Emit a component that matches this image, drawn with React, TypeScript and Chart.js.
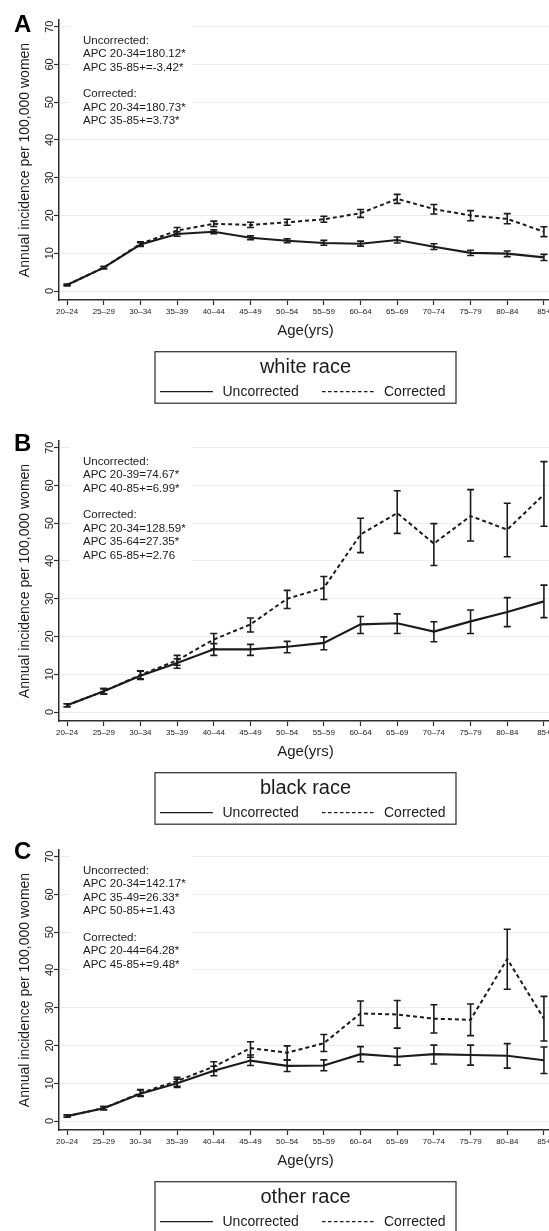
import React, { useEffect, useRef } from "react";
import { Chart, registerables } from "chart.js";

Chart.register(...registerables);

// ---------- data ----------
const ageGroups = ["20–24", "25–29", "30–34", "35–39", "40–44", "45–49", "50–54", "55–59", "60–64", "65–69", "70–74", "75–79", "80–84", "85+"];
const yTicks = [0, 10, 20, 30, 40, 50, 60, 70];
const seriesNames = ["Uncorrected", "Corrected"];

// Panel A: white race
const whiteUncorrected = [1.6, 6.2, 12.3, 15.1, 15.7, 14.1, 13.3, 12.7, 12.5, 13.5, 11.7, 10.1, 9.9, 8.9];
const whiteUncorrectedLow = [1.4, 5.9, 11.8, 14.5, 15.2, 13.6, 12.8, 12.1, 11.9, 12.7, 11.0, 9.4, 9.1, 8.1];
const whiteUncorrectedHigh = [1.8, 6.5, 12.8, 15.7, 16.2, 14.6, 13.8, 13.4, 13.2, 14.3, 12.5, 10.8, 10.6, 9.7];
const whiteCorrected = [1.6, 6.2, 12.5, 16.0, 17.8, 17.5, 18.2, 19.0, 20.6, 24.4, 21.7, 20.0, 19.1, 15.7];
const whiteCorrectedLow = [1.4, 5.9, 12.0, 15.2, 17.1, 16.8, 17.4, 18.2, 19.5, 23.2, 20.4, 18.6, 17.8, 14.4];
const whiteCorrectedHigh = [1.8, 6.5, 13.0, 16.8, 18.5, 18.2, 19.0, 19.8, 21.6, 25.6, 22.9, 21.3, 20.5, 17.0];
const whiteNotes = ["Uncorrected:", "APC 20-34=180.12*", "APC 35-85+=-3.42*", "", "Corrected:", "APC 20-34=180.73*", "APC 35-85+=3.73*"];

// Panel B: black race
const blackUncorrected = [1.8, 5.5, 9.6, 13.0, 16.6, 16.6, 17.3, 18.3, 23.2, 23.5, 21.3, 24.0, 26.5, 29.3];
const blackUncorrectedLow = [1.4, 4.8, 8.6, 11.6, 15.0, 15.0, 15.7, 16.5, 20.8, 20.8, 18.6, 20.8, 22.6, 25.0];
const blackUncorrectedHigh = [2.2, 6.2, 10.8, 14.1, 18.1, 17.9, 18.7, 19.9, 25.3, 26.0, 23.9, 27.0, 30.3, 33.6];
const blackCorrected = [1.8, 5.5, 9.8, 13.7, 19.2, 23.2, 30.0, 32.9, 47.0, 52.7, 44.6, 51.9, 48.3, 57.6];
const blackCorrectedLow = [1.4, 4.8, 8.8, 12.4, 16.7, 21.2, 27.4, 29.8, 42.2, 47.3, 38.8, 45.3, 41.1, 49.2];
const blackCorrectedHigh = [2.2, 6.2, 10.9, 15.0, 20.8, 24.9, 32.2, 35.9, 51.3, 58.6, 49.9, 58.9, 55.3, 66.3];
const blackNotes = ["Uncorrected:", "APC 20-39=74.67*", "APC 40-85+=6.99*", "", "Corrected:", "APC 20-34=128.59*", "APC 35-64=27.35*", "APC 65-85+=2.76"];

// Panel C: other race
const otherUncorrected = [1.3, 3.4, 7.2, 10.0, 13.3, 16.0, 14.6, 14.7, 17.7, 17.0, 17.7, 17.5, 17.3, 16.1];
const otherUncorrectedLow = [1.0, 3.0, 6.5, 8.9, 12.0, 14.7, 13.1, 13.3, 15.7, 14.8, 15.1, 14.8, 14.0, 12.6];
const otherUncorrectedHigh = [1.6, 3.8, 8.2, 11.1, 14.5, 17.5, 16.2, 16.2, 19.7, 19.3, 20.1, 20.1, 20.5, 19.6];
const otherCorrected = [1.3, 3.4, 7.4, 10.6, 14.4, 19.3, 18.1, 20.6, 28.5, 28.2, 27.1, 26.8, 42.9, 27.1];
const otherCorrectedLow = [1.0, 3.0, 6.7, 9.2, 13.1, 16.9, 16.2, 18.4, 25.3, 24.6, 23.3, 22.6, 34.9, 21.2];
const otherCorrectedHigh = [1.6, 3.8, 8.3, 11.6, 15.7, 21.0, 19.9, 22.9, 31.8, 31.9, 30.8, 31.0, 50.8, 33.0];
const otherNotes = ["Uncorrected:", "APC 20-34=142.17*", "APC 35-49=26.33*", "APC 50-85+=1.43", "", "Corrected:", "APC 20-44=64.28*", "APC 45-85+=9.48*"];

// ---------- styling ----------
const FONT = "'Liberation Sans', Arial, Helvetica, sans-serif";
const INK = "#1b1b1b";
const AXIS = "#2e2e2e";
const GRID = "#ececec";

type PanelSpec = {
  letter: string;
  race: string;
  notes: string[];
  uncorr: number[];
  uncorrLow: number[];
  uncorrHigh: number[];
  corr: number[];
  corrLow: number[];
  corrHigh: number[];
  top: number;
  letterBaseline: number;
};

const panels: PanelSpec[] = [
  { letter: "A", race: "white race", notes: whiteNotes, uncorr: whiteUncorrected, uncorrLow: whiteUncorrectedLow, uncorrHigh: whiteUncorrectedHigh, corr: whiteCorrected, corrLow: whiteCorrectedLow, corrHigh: whiteCorrectedHigh, top: 0, letterBaseline: 32 },
  { letter: "B", race: "black race", notes: blackNotes, uncorr: blackUncorrected, uncorrLow: blackUncorrectedLow, uncorrHigh: blackUncorrectedHigh, corr: blackCorrected, corrLow: blackCorrectedLow, corrHigh: blackCorrectedHigh, top: 421, letterBaseline: 29.5 },
  { letter: "C", race: "other race", notes: otherNotes, uncorr: otherUncorrected, uncorrLow: otherUncorrectedLow, uncorrHigh: otherUncorrectedHigh, corr: otherCorrected, corrLow: otherCorrectedLow, corrHigh: otherCorrectedHigh, top: 830, letterBaseline: 29 },
];

const CANVAS_W = 600;
const CANVAS_H = 410;

function PanelChart({ p }: { p: PanelSpec }) {
  const ref = useRef<HTMLCanvasElement>(null);

  useEffect(() => {
    const canvas = ref.current;
    if (!canvas) return;

    const overlay = {
      id: "overlay",
      beforeDatasetsDraw(chart: any) {
        const { ctx } = chart;
        const ys = chart.scales.y;
        const y70 = ys.getPixelForValue(70);
        const step = 13.4;
        const first = y70 + 14;
        ctx.save();
        ctx.fillStyle = "#ffffff";
        ctx.fillRect(70, y70 - 5, 122, 19 + step * (p.notes.length - 1) + 8);
        ctx.fillStyle = INK;
        ctx.font = `11.5px ${FONT}`;
        ctx.textAlign = "left";
        ctx.textBaseline = "middle";
        p.notes.forEach((t, i) => {
          if (t) ctx.fillText(t, 83, first + i * step);
        });
        ctx.restore();
      },
      afterDatasetsDraw(chart: any) {
        const { ctx } = chart;
        const xs = chart.scales.x;
        const ys = chart.scales.y;
        ctx.save();
        ctx.strokeStyle = INK;
        ctx.lineWidth = 1.6;
        ctx.setLineDash([]);
        chart.data.datasets.forEach((ds: any) => {
          const lo: number[] = ds.errLow;
          const hi: number[] = ds.errHigh;
          lo.forEach((l, i) => {
            const px = xs.getPixelForValue(i);
            const pl = ys.getPixelForValue(l);
            const ph = ys.getPixelForValue(hi[i]);
            ctx.beginPath();
            ctx.moveTo(px, pl);
            ctx.lineTo(px, ph);
            ctx.moveTo(px - 3.5, pl);
            ctx.lineTo(px + 3.5, pl);
            ctx.moveTo(px - 3.5, ph);
            ctx.lineTo(px + 3.5, ph);
            ctx.stroke();
          });
        });
        ctx.restore();
      },
      afterDraw(chart: any) {
        const { ctx, chartArea: ca } = chart;
        ctx.save();
        // panel letter
        ctx.fillStyle = "#000";
        ctx.font = `bold 24px ${FONT}`;
        ctx.textAlign = "left";
        ctx.textBaseline = "alphabetic";
        ctx.fillText(p.letter, 14, p.letterBaseline);

        // legend box
        const cx = (ca.left + ca.right) / 2;
        const W = 301;
        const H = 51.5;
        const L = cx - W / 2;
        const T = ca.bottom + 51.7;
        ctx.strokeStyle = "#3a3a3a";
        ctx.lineWidth = 1.3;
        ctx.strokeRect(L, T, W, H);

        ctx.fillStyle = INK;
        ctx.textAlign = "center";
        ctx.textBaseline = "middle";
        ctx.font = `20px ${FONT}`;
        ctx.fillText(p.race, cx, T + 16);

        const ey = T + 40;
        ctx.lineWidth = 1.3;
        ctx.strokeStyle = INK;
        ctx.beginPath();
        ctx.moveTo(L + 5, ey);
        ctx.lineTo(L + 58, ey);
        ctx.stroke();
        ctx.setLineDash([3.5, 2.5]);
        ctx.beginPath();
        ctx.moveTo(L + 167, ey);
        ctx.lineTo(L + 219, ey);
        ctx.stroke();
        ctx.setLineDash([]);
        ctx.font = `14px ${FONT}`;
        ctx.textAlign = "left";
        ctx.fillText(seriesNames[0], L + 67.5, ey);
        ctx.fillText(seriesNames[1], L + 229, ey);
        ctx.restore();
      },
    };

    const chart = new Chart(canvas, {
      type: "line",
      data: {
        datasets: [
          {
            label: seriesNames[1],
            data: p.corr.map((v, i) => ({ x: i, y: v })),
            borderColor: INK,
            borderWidth: 2,
            borderDash: [4, 3],
            pointRadius: 0,
            fill: false,
            tension: 0,
            errLow: p.corrLow,
            errHigh: p.corrHigh,
          } as any,
          {
            label: seriesNames[0],
            data: p.uncorr.map((v, i) => ({ x: i, y: v })),
            borderColor: INK,
            borderWidth: 2.1,
            pointRadius: 0,
            fill: false,
            tension: 0,
            errLow: p.uncorrLow,
            errHigh: p.uncorrHigh,
          } as any,
        ],
      },
      options: {
        responsive: false,
        animation: false,
        devicePixelRatio: 1,
        layout: { padding: { top: 20, right: 48, bottom: 70, left: 0 } },
        plugins: {
          legend: { display: false },
          tooltip: { enabled: false },
        },
        scales: {
          x: {
            type: "linear",
            min: -0.22,
            max: 13.22,
            afterBuildTicks: (s: any) => {
              s.ticks = ageGroups.map((_, i) => ({ value: i }));
            },
            afterFit: (s: any) => {
              s.height = 40;
            },
            ticks: {
              callback: (v: any) => ageGroups[Number(v)] ?? "",
              font: { size: 8, family: FONT },
              color: INK,
              padding: 2,
              autoSkip: false,
              minRotation: 0,
              maxRotation: 0,
            },
            grid: { drawOnChartArea: false, drawTicks: true, tickLength: 5, tickColor: AXIS, tickWidth: 1.2 },
            border: { display: true, color: AXIS, width: 1.5 },
            title: { display: true, text: "Age(yrs)", font: { size: 15, family: FONT }, color: INK, padding: 0 },
          },
          y: {
            type: "linear",
            min: -2.38,
            max: 71.77,
            afterBuildTicks: (s: any) => {
              s.ticks = yTicks.map((v) => ({ value: v }));
            },
            afterFit: (s: any) => {
              s.width = 59;
            },
            ticks: {
              font: { size: 11, family: FONT },
              color: INK,
              padding: -2,
              minRotation: 90,
              maxRotation: 90,
              crossAlign: "center",
            },
            grid: { color: GRID, lineWidth: 1, drawTicks: true, tickLength: 5, tickColor: AXIS, tickWidth: 1.2 },
            border: { display: true, color: AXIS, width: 1.5 },
            title: {
              display: true,
              text: "Annual incidence per 100,000 women",
              font: { size: 14, family: FONT },
              color: INK,
              padding: { top: 17, bottom: 0 },
            },
          },
        },
      } as any,
      plugins: [overlay],
    });

    return () => chart.destroy();
  }, [p]);

  return (
    <div style={{ position: "absolute", left: 0, top: p.top, width: CANVAS_W, height: CANVAS_H }}>
      <canvas ref={ref} width={CANVAS_W} height={CANVAS_H} style={{ display: "block" }} />
    </div>
  );
}

export default function App() {
  return (
    <div
      style={{
        position: "absolute",
        left: 0,
        top: 0,
        width: 549,
        height: 1231,
        overflow: "hidden",
        background: "#ffffff",
      }}
    >
      {panels.map((p) => (
        <PanelChart key={p.letter} p={p} />
      ))}
    </div>
  );
}
